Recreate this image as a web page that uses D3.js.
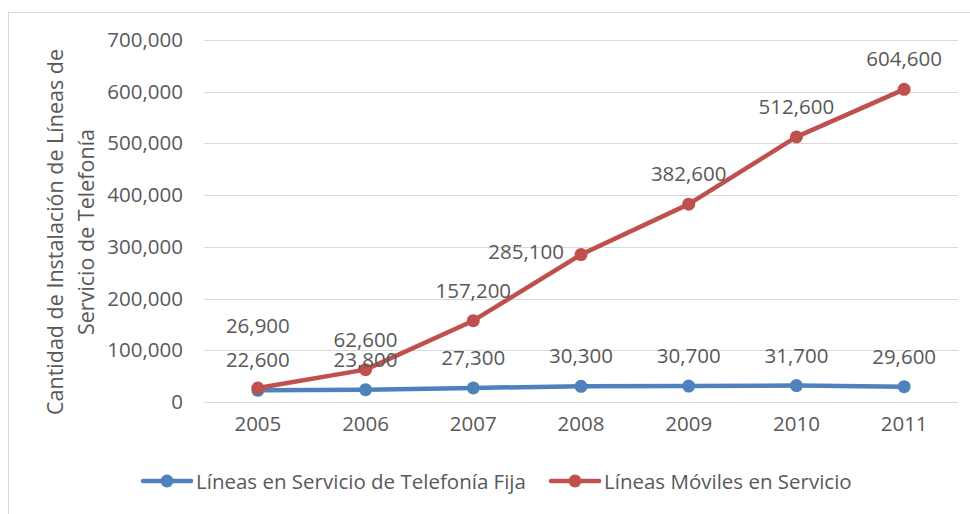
<!DOCTYPE html>
<html>
<head>
<meta charset="utf-8">
<script src="https://cdn.jsdelivr.net/npm/d3@7"></script>
<style>
  body { margin: 0; background: #fff; }
  text { font-family: "Open Sans", Lato, sans-serif; fill: #595959; }
</style>
</head>
<body>
<script>
// Data
const years = ["2005", "2006", "2007", "2008", "2009", "2010", "2011"];
const fija = [22600, 23800, 27300, 30300, 30700, 31700, 29600];
const moviles = [26900, 62600, 157200, 285100, 382600, 512600, 604600];
const yTicks = [0, 100000, 200000, 300000, 400000, 500000, 600000, 700000];
const seriesNames = ["Líneas en Servicio de Telefonía Fija", "Líneas Móviles en Servicio"];
const axisTitle = ["Cantidad de Instalación de Líneas de", "Servicio de Telefonía"];

const width = 970;
const height = 514;
const margin = { top: 40, right: 12, bottom: 112, left: 204 };
const fontSize = "20.5px";

const svg = d3.select("body")
  .append("svg")
  .attr("width", width)
  .attr("height", height);

// chart border
svg.append("rect")
  .attr("x", 8.5).attr("y", 12.5)
  .attr("width", width).attr("height", height)
  .attr("fill", "none")
  .attr("stroke", "#d9d9d9");

const xScale = d3.scaleBand()
  .domain(years)
  .range([margin.left, width - margin.right]);

const yScale = d3.scaleLinear()
  .domain([0, 700000])
  .range([height - margin.bottom, margin.top]);

const fmt = d3.format(",");

// gridlines
svg.append("g")
  .selectAll("line")
  .data(yTicks)
  .enter()
  .append("line")
  .attr("x1", margin.left)
  .attr("x2", width - margin.right)
  .attr("y1", d => Math.round(yScale(d)) + 0.5)
  .attr("y2", d => Math.round(yScale(d)) + 0.5)
  .attr("stroke", "#d9d9d9")
  .attr("stroke-width", 1);

// y axis
const yAxis = d3.axisLeft(yScale)
  .tickValues(yTicks)
  .tickFormat(fmt)
  .tickSize(0)
  .tickPadding(21);

svg.append("g")
  .attr("id", "y-axis")
  .attr("transform", `translate(${margin.left}, 0)`)
  .call(yAxis)
  .call(g => g.select(".domain").remove())
  .selectAll("text")
  .style("font-size", fontSize)
  .attr("fill", "#595959");

// x axis
const xAxis = d3.axisBottom(xScale).tickSize(0).tickPadding(14);

svg.append("g")
  .attr("id", "x-axis")
  .attr("transform", `translate(0, ${height - margin.bottom})`)
  .call(xAxis)
  .call(g => g.select(".domain").remove())
  .selectAll("text")
  .style("font-size", fontSize)
  .attr("fill", "#595959");

// axis title
const title = svg.append("text")
  .attr("transform", "translate(63, 232) rotate(-90)")
  .attr("text-anchor", "middle")
  .style("font-size", "21.5px");
title.selectAll("tspan")
  .data(axisTitle)
  .enter()
  .append("tspan")
  .attr("x", 0)
  .attr("dy", (d, i) => i === 0 ? 0 : 31)
  .text(d => d);

const cx = d => xScale(d) + xScale.bandwidth() / 2;

const series = [
  { name: seriesNames[0], values: fija, color: "#4F81BD" },
  { name: seriesNames[1], values: moviles, color: "#C0504D" }
];

const line = d3.line()
  .x((d, i) => cx(years[i]))
  .y(d => yScale(d));

series.forEach((s, si) => {
  svg.append("path")
    .datum(s.values)
    .attr("fill", "none")
    .attr("stroke", s.color)
    .attr("stroke-width", 4.5)
    .attr("stroke-linejoin", "round")
    .attr("stroke-linecap", "round")
    .attr("d", line);

  svg.append("g")
    .selectAll("circle")
    .data(s.values)
    .enter()
    .append("circle")
    .attr("cx", (d, i) => cx(years[i]))
    .attr("cy", d => yScale(d))
    .attr("r", 6.5)
    .attr("fill", s.color);
});

// data labels
series.forEach((s, si) => {
  svg.append("g")
    .selectAll("text")
    .data(s.values)
    .enter()
    .append("text")
    .attr("x", (d, i) => (si === 1 && i === 3) ? cx(years[i]) - 17 : cx(years[i]))
    .attr("y", (d, i) => {
      if (si === 1 && i === 0) return yScale(d) - 63;
      if (si === 1 && i === 3) return yScale(d) - 4;
      return yScale(d) - 31;
    })
    .attr("text-anchor", (d, i) => (si === 1 && i === 3) ? "end" : "middle")
    .attr("dominant-baseline", "central")
    .style("font-size", fontSize)
    .attr("fill", "#404040")
    .text(d => fmt(d));
});

// legend
const legendX = [143, 551];
const legend = svg.append("g").attr("transform", "translate(0, 481)");
series.forEach((s, si) => {
  const g = legend.append("g").attr("transform", `translate(${legendX[si]}, 0)`);
  g.append("line")
    .attr("x1", 0).attr("x2", 48)
    .attr("stroke", s.color)
    .attr("stroke-width", 4.5)
    .attr("stroke-linecap", "round");
  g.append("circle")
    .attr("cx", 24).attr("r", 6.5)
    .attr("fill", s.color);
  g.append("text")
    .attr("x", 53)
    .attr("dominant-baseline", "central")
    .style("font-size", fontSize)
    .text(s.name);
});
</script>
</body>
</html>
